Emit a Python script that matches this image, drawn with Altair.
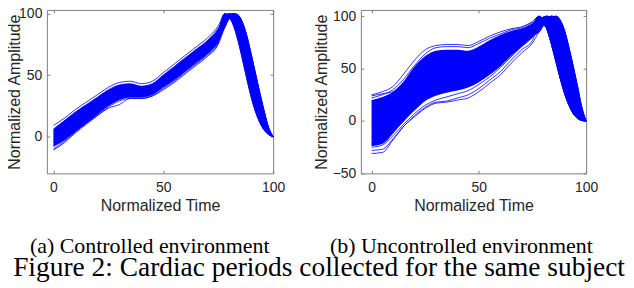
import altair as alt
import pandas as pd

# ---------------- data ----------------
T = [0, 5, 10, 15, 20, 25, 30, 35, 40, 45, 50, 55, 60, 65, 70, 75,
     78, 80, 82, 84, 86, 88, 90, 92, 94, 96, 98, 100]

# (a) controlled environment: rising part (t = 0..75)
ctrl_rise_01 = [9, 15, 22, 28, 34, 40, 44, 45, 43, 45, 52, 59, 66, 73, 80, 90]
ctrl_rise_02 = [6, 13, 20, 26, 32, 38, 42, 43, 41, 43, 50, 57, 64, 71, 78, 88]
ctrl_rise_03 = [4, 11, 18, 24, 30, 36, 41, 42, 40, 42, 48, 55, 62, 69, 76, 86]
ctrl_rise_04 = [2, 9, 16, 22, 28, 34, 39, 41, 39, 41, 47, 53, 60, 67, 74, 84]
ctrl_rise_05 = [0, 7, 14, 20, 26, 32, 37, 40, 38, 40, 46, 52, 59, 66, 73, 83]
ctrl_rise_06 = [-2, 5, 12, 18, 24, 30, 36, 39, 37, 39, 45, 51, 58, 65, 72, 82]
ctrl_rise_07 = [-4, 3, 10, 17, 23, 29, 35, 38, 36, 38, 43, 50, 57, 64, 71, 81]
ctrl_rise_08 = [-5, 1, 8, 15, 21, 28, 33, 36, 35, 37, 42, 48, 55, 62, 69, 79]
ctrl_rise_09 = [-7, -1, 6, 13, 19, 26, 31, 34, 34, 36, 41, 47, 54, 61, 68, 78]
ctrl_rise_10 = [-8, -3, 4, 11, 18, 25, 30, 32, 32, 34, 40, 46, 53, 60, 67, 77]
ctrl_rise_11 = [-11, -5, 3, 10, 17, 23, 26, 31, 31, 33, 38, 44, 51, 58, 65, 75]
ctrl_rise_12 = [-10, -4, 4, 11, 17, 24, 29, 31, 31, 33, 39, 45, 52, 59, 66, 76]
# falling part (t = 78..100)
ctrl_fall_early = [100, 97, 90, 78, 63, 47, 32, 20, 11, 5, 1.5, 0]
ctrl_fall_mid = [96, 100, 97, 89, 76, 60, 43, 28, 16, 7, 2, 0]
ctrl_fall_late = [92, 98, 100, 96, 87, 74, 58, 42, 27, 14, 4.5, 0]
ctrl_fall_vlate = [89, 96, 100, 99, 93, 82, 67, 51, 35, 20, 7, 0]
# dense core of the bundle
ctrl_core_lo = [-8, -3, 4, 11, 18, 25, 30, 32, 32, 34, 40, 46, 53, 60, 67, 77,
                89, 96, 90, 78, 63, 47, 32, 20, 11, 5, 1.5, 0]
ctrl_core_hi = [6, 13, 20, 26, 32, 38, 42, 43, 41, 43, 50, 57, 64, 71, 78, 88,
                100, 100, 100, 99, 93, 82, 67, 51, 35, 20, 7, 0]

# (b) uncontrolled environment
unc_rise_01 = [25, 28, 33, 45, 58, 68, 72, 73, 73, 72, 76, 81, 85, 88, 90, 95]
unc_rise_02 = [22, 25, 30, 40, 53, 64, 70, 71, 71, 70, 74, 79, 83, 87, 89, 94]
unc_rise_03 = [18, 20, 25, 35, 47, 58, 64, 66, 66, 66, 70, 76, 81, 85, 88, 93]
unc_rise_04 = [12, 15, 20, 30, 42, 52, 58, 61, 62, 63, 67, 73, 78, 83, 87, 92]
unc_rise_05 = [6, 9, 15, 25, 37, 47, 53, 56, 57, 58, 62, 68, 74, 80, 85, 91]
unc_rise_06 = [0, 4, 10, 20, 32, 42, 48, 51, 52, 54, 58, 64, 70, 77, 83, 90]
unc_rise_07 = [-5, -2, 5, 15, 27, 37, 43, 46, 48, 50, 54, 60, 67, 74, 81, 89]
unc_rise_08 = [-10, -8, 0, 10, 22, 32, 38, 41, 43, 45, 50, 56, 63, 71, 79, 87]
unc_rise_09 = [-15, -13, -5, 5, 16, 26, 32, 35, 37, 40, 45, 51, 59, 68, 77, 86]
unc_rise_10 = [-20, -18, -10, 0, 11, 20, 26, 29, 31, 34, 40, 47, 55, 65, 74, 84]
unc_rise_11 = [-25, -23, -14, -3, 7, 15, 20, 23, 26, 29, 35, 42, 51, 61, 71, 80]
unc_rise_12 = [-28, -27, -17, -5, 5, 13, 18, 19, 22, 25, 31, 39, 47, 58, 68, 77]
unc_rise_13 = [-31, -30, -18, -5, 4, 12, 17, 18, 20, 22, 28, 36, 44, 55, 65, 74.5]
unc_rise_14 = [24, 26, 28, 33, 40, 48, 54, 57, 57, 55, 58, 64, 72, 80, 86, 92]
unc_rise_15 = [-22, -20, -8, 5, 18, 30, 38, 43, 47, 49, 53, 59, 66, 73, 80, 88]
unc_fall_early = [100, 96, 86, 72, 56, 40, 26, 15, 7, 2.5, 0.5, 0]
unc_fall_mid = [95, 99, 100, 94, 83, 68, 51, 35, 21, 10, 3, 0]
unc_fall_late = [89, 95, 99, 100, 97, 88, 74, 57, 40, 24, 9, 0]
unc_fall_vlate = [85, 91, 96, 99, 100, 96, 86, 70, 52, 33, 13, 0]
unc_core_lo = [-24, -22, -12, 0, 10, 19, 24, 27, 29, 32, 37, 44, 52, 62, 71, 80,
               85, 91, 86, 72, 56, 40, 26, 15, 7, 2.5, 0.5, 0]
unc_core_hi = [20, 23, 28, 38, 52, 62, 67, 68, 68, 67, 71, 77, 82, 86, 88, 93,
               100, 99, 100, 100, 100, 96, 86, 70, 52, 33, 13, 0]

ctrl_lines = [
    ctrl_rise_01 + ctrl_fall_early, ctrl_rise_02 + ctrl_fall_mid,
    ctrl_rise_03 + ctrl_fall_early, ctrl_rise_04 + ctrl_fall_mid,
    ctrl_rise_05 + ctrl_fall_late, ctrl_rise_06 + ctrl_fall_mid,
    ctrl_rise_07 + ctrl_fall_vlate, ctrl_rise_08 + ctrl_fall_late,
    ctrl_rise_09 + ctrl_fall_vlate, ctrl_rise_10 + ctrl_fall_late,
    ctrl_rise_11 + ctrl_fall_vlate, ctrl_rise_12 + ctrl_fall_late,
]
unc_lines = [
    unc_rise_01 + unc_fall_early, unc_rise_02 + unc_fall_mid,
    unc_rise_03 + unc_fall_early, unc_rise_04 + unc_fall_late,
    unc_rise_05 + unc_fall_mid, unc_rise_06 + unc_fall_vlate,
    unc_rise_07 + unc_fall_late, unc_rise_08 + unc_fall_early,
    unc_rise_09 + unc_fall_mid, unc_rise_10 + unc_fall_vlate,
    unc_rise_11 + unc_fall_late, unc_rise_12 + unc_fall_mid,
    unc_rise_13 + unc_fall_vlate, unc_rise_14 + unc_fall_late,
    unc_rise_15 + unc_fall_early,
]


def lines_frame(lines):
    rows = []
    for i, vals in enumerate(lines):
        for t, v in zip(T, vals):
            rows.append({"id": i, "t": t, "v": v})
    return pd.DataFrame(rows)


def core_frame(lo, hi):
    return pd.DataFrame({"t": T, "lo": lo, "hi": hi})


BLUE = "#0000ff"
TXT = "#262626"
BOX = "#808080"
SANS = "Liberation Sans"
SERIF = "Liberation Serif"


def panel(lines, lo, hi, xdom, ydom, yvals, w, h, caption, cap_dx, title_pad):
    xs = alt.Scale(domain=xdom, nice=False, zero=False)
    ys = alt.Scale(domain=ydom, nice=False, zero=False)
    ldf = lines_frame(lines)
    common = dict(offset=-3, tickSize=3, tickColor=BOX, domain=False, grid=False,
                  labelFlush=False, minExtent=0)
    ax_b = alt.Axis(orient="bottom", values=[0, 50, 100], title="Normalized Time",
                    labelPadding=7, titlePadding=3, labelFont=SANS, titleFont=SANS,
                    labelFontSize=14, titleFontSize=16, titleFontWeight="normal",
                    labelColor=TXT, titleColor=TXT, **common)
    ax_l = alt.Axis(orient="left", values=yvals, title="Normalized Amplitude",
                    labelPadding=5, titlePadding=title_pad, labelFont=SANS,
                    titleFont=SANS, labelFontSize=14, titleFontSize=16,
                    titleFontWeight="normal", labelColor=TXT, titleColor=TXT, **common)
    ax_t = alt.Axis(orient="top", values=[0, 50, 100], title=None, labels=False,
                    maxExtent=0, **common)
    ax_r = alt.Axis(orient="right", values=yvals, title=None, labels=False,
                    maxExtent=0, **common)

    area = alt.Chart(core_frame(lo, hi)).mark_area(
        color=BLUE, opacity=1, interpolate="monotone"
    ).encode(
        x=alt.X("t:Q", scale=xs, axis=None),
        y=alt.Y("lo:Q", scale=ys, axis=None),
        y2="hi:Q",
    )
    lns = alt.Chart(ldf).mark_line(
        color=BLUE, strokeWidth=0.8, interpolate="monotone"
    ).encode(
        x=alt.X("t:Q", scale=xs, axis=ax_b),
        y=alt.Y("v:Q", scale=ys, axis=ax_l),
        detail="id:N",
    )
    mirror = alt.Chart(ldf).mark_point(opacity=0, size=1).encode(
        x=alt.X("t:Q", scale=xs, axis=ax_t),
        y=alt.Y("v:Q", scale=ys, axis=ax_r),
    )
    return alt.layer(area, lns, mirror).resolve_axis(
        x="independent", y="independent"
    ).properties(
        width=w, height=h,
        title=alt.TitleParams(caption, orient="bottom", font=SERIF, fontSize=22,
                              fontWeight="normal", color="black", anchor="start",
                              frame="group", dx=cap_dx, offset=23),
    )


left = panel(ctrl_lines, ctrl_core_lo, ctrl_core_hi, [-3, 100], [-30, 103],
             [0, 50, 100], 227, 164, "(a) Controlled environment", -17, -4)
right = panel(unc_lines, unc_core_lo, unc_core_hi, [-5, 100], [-50, 106],
              [-50, 0, 50, 100], 226, 164, "(b) Uncontrolled environment", -31, 3)

chart = alt.hconcat(left, right, spacing=26).properties(
    padding={"left": -2, "top": -2.5, "right": 0, "bottom": 0},
    title=alt.TitleParams("Figure 2: Cardiac periods collected for the same subject",
                          orient="bottom", font=SERIF, fontSize=27.5, fontWeight="normal",
                          color="black", anchor="start", frame="bounds", dx=7, offset=-4),
).configure_view(stroke=BOX, strokeWidth=1)

chart.save("out.html", embed_options={"renderer": "svg", "actions": False})
